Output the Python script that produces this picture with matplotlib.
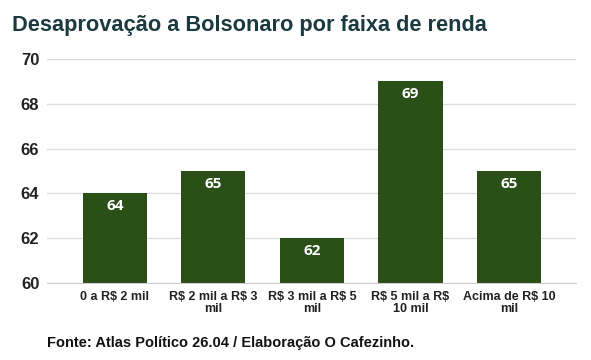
import matplotlib
matplotlib.use("Agg")
import matplotlib.pyplot as plt

categories = ["0 a R\\$ 2 mil", "R\\$ 2 mil a R\\$ 3\nmil", "R\\$ 3 mil a R\\$ 5\nmil",
              "R\\$ 5 mil a R\\$\n10 mil", "Acima de R\\$ 10\nmil"]
values = [64, 65, 62, 69, 65]
yticks = [60, 62, 64, 66, 68, 70]

title = "Desaprovação a Bolsonaro por faixa de renda"
footer = "Fonte: Atlas Político 26.04 / Elaboração O Cafezinho."

plt.rcParams['font.family'] = ['Liberation Sans', 'DejaVu Sans']

fig = plt.figure(figsize=(5.91, 3.6), dpi=100)
ax = fig.add_axes([47/591, 1-283/360, (576-47)/591, (283-59)/360])

x = list(range(len(values)))
ax.bar(x, [v - 60 for v in values], bottom=60, width=0.65, color="#2a4f17", zorder=3)
for xi, v in zip(x, values):
    ax.text(xi, v - 0.25, str(v), ha="center", va="top", color="white",
            fontsize=11, fontweight="bold", family=["Open Sans", "DejaVu Sans"], zorder=4)

ax.set_ylim(60, 70)
ax.set_xlim(-0.69, 4.68)
ax.set_yticks(yticks)
ax.set_yticklabels([str(t) for t in yticks], fontsize=12, fontweight="bold")
ax.set_xticks(x)
ax.set_xticklabels(categories, fontsize=9, fontweight="bold", linespacing=1.0)
ax.tick_params(axis="both", length=0, colors="#222222")
ax.tick_params(axis="x", pad=6)
ax.tick_params(axis="y", pad=5.5)
ax.grid(axis="y", color="#dddddd", linewidth=1, zorder=0)
for s in ["top", "right", "left"]:
    ax.spines[s].set_visible(False)
ax.spines["bottom"].set_color("#cccccc")
ax.spines["bottom"].set_zorder(5)

fig.text(12/591, 1-26/360, title, fontsize=15.7, fontweight="bold", color="#1b3a40",
         ha="left", va="center")
fig.text(47/591, 1-343/360, footer, fontsize=10.5, fontweight="bold", color="#111111",
         ha="left", va="center")

fig.savefig("out.png", dpi=100, facecolor="white")
